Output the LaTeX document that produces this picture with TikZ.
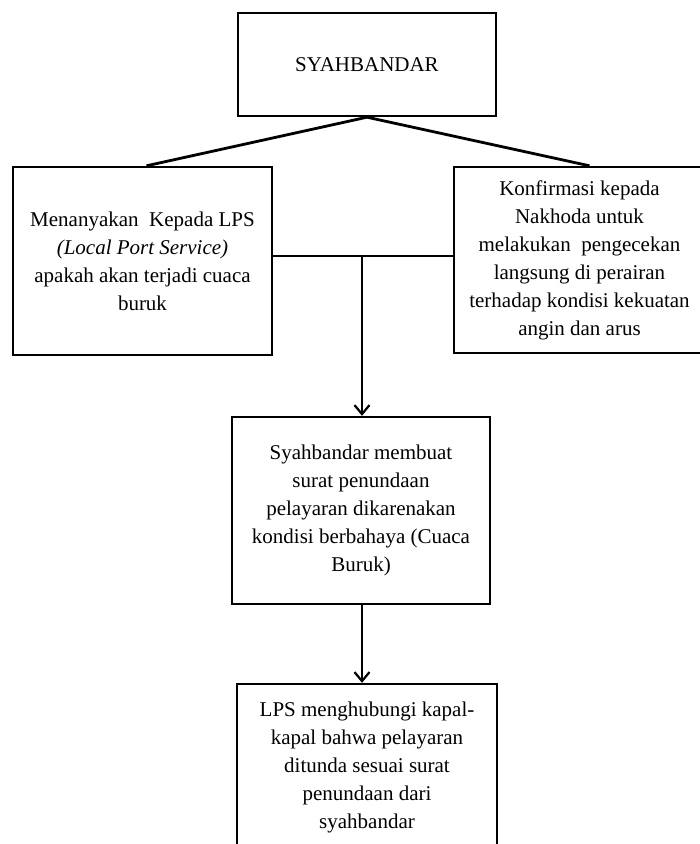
\documentclass[tikz,border=0pt]{standalone}
\usepackage{fontspec}
\setmainfont{Liberation Serif}
\usetikzlibrary{arrows.meta}
\begin{document}
\begin{tikzpicture}[x=1pt,y=-1pt,
  box/.style={draw, line width=2.4pt, inner sep=0pt, align=center, font=\fontsize{21}{28}\selectfont},
  conn/.style={line width=2.8pt},
  arr/.style={line width=2.2pt, -{Straight Barb[length=9pt,width=15pt,line width=2.2pt]}}]
\useasboundingbox (0,0) rectangle (700,844);
\clip (0,0) rectangle (700,844);
\node[box, minimum width=258pt, minimum height=103pt] (top) at (367,64.5) {SYAHBANDAR};
\node[box, minimum width=259pt, minimum height=188pt] (lbox) at (142.5,261) {Menanyakan\ \ Kepada LPS\\\textit{(Local Port Service)}\\apakah akan terjadi cuaca\\buruk};
\node[box, minimum width=251pt, minimum height=186pt] (rbox) at (579.5,260) {Konfirmasi kepada\\Nakhoda untuk\\melakukan\ \ pengecekan\\langsung di perairan\\terhadap kondisi kekuatan\\angin dan arus};
\node[box, minimum width=258pt, minimum height=187pt] (mid) at (361,510.5) {Syahbandar membuat\\surat penundaan\\pelayaran dikarenakan\\kondisi berbahaya (Cuaca\\Buruk)};
\node[box, minimum width=260pt, minimum height=166pt] (bot) at (367,767) {LPS menghubungi kapal-\\kapal bahwa pelayaran\\ditunda sesuai surat\\penundaan dari\\syahbandar};
\coordinate (j) at (362,256);
\draw[conn] (top.south) -- ([xshift=4pt]lbox.north);
\draw[conn] (top.south) -- ([xshift=10pt]rbox.north);
\draw[conn] (lbox.east |- j) -- (rbox.west |- j);
\draw[arr] (j) -- (j |- mid.north);
\draw[arr] ([xshift=1pt]mid.south) -- ([xshift=1pt]mid.south |- bot.north);
\end{tikzpicture}
\end{document}
